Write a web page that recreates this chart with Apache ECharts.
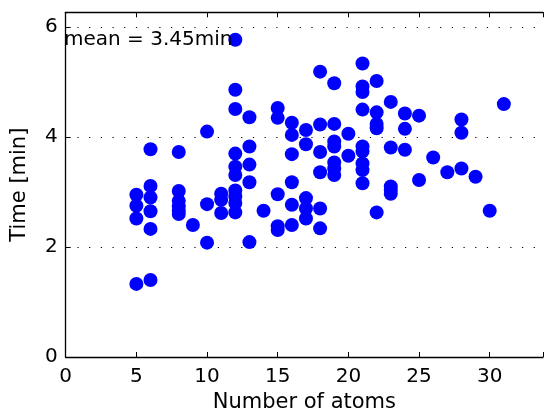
<!DOCTYPE html>
<html><head><meta charset="utf-8">
<script src="https://cdn.jsdelivr.net/npm/echarts@6/dist/echarts.min.js"></script>
<style>html,body{margin:0;padding:0;background:#fff}#c{width:546px;height:418px}</style>
</head><body><div id="c"></div>
<script>
// Number of atoms for each column of points
const atomColumns = [5, 6, 8, 9, 10, 11, 12, 13, 14, 15, 16, 17, 18, 19, 20, 21, 22, 23, 24, 25, 26, 27, 28, 29, 30, 31];
// Times [min] for each column (same order as atomColumns)
const timeColumns = [
  [2.95, 2.75, 2.52, 1.33],
  [3.78, 3.11, 2.90, 2.65, 2.33, 1.40],
  [3.73, 3.02, 2.84, 2.74, 2.66, 2.60],
  [2.40],
  [4.10, 2.78, 2.08],
  [2.97, 2.86, 2.62],
  [5.77, 4.86, 4.51, 3.70, 3.46, 3.31, 3.03, 2.92, 2.80, 2.63],
  [4.36, 3.83, 3.50, 3.18, 2.09],
  [2.66],
  [4.53, 4.35, 2.96, 2.38, 2.31],
  [4.26, 4.04, 3.69, 3.18, 2.77, 2.40],
  [4.13, 3.87, 2.89, 2.70, 2.52],
  [5.19, 4.23, 3.73, 3.36, 2.70, 2.34],
  [4.98, 4.24, 3.92, 3.83, 3.54, 3.43, 3.31],
  [4.06, 3.66],
  [5.34, 4.92, 4.82, 4.50, 3.83, 3.74, 3.52, 3.40, 3.16],
  [5.02, 4.45, 4.24, 4.16, 2.63],
  [4.64, 3.81, 3.10, 3.04, 2.97],
  [4.43, 4.15, 3.77],
  [4.39, 3.22],
  [3.63],
  [3.36],
  [4.32, 4.08, 3.43],
  [3.28],
  [2.66],
  [4.60]
];
const xTickValues = [0, 5, 10, 15, 20, 25, 30];
const yTickValues = [0, 2, 4, 6];
const meanText = 'mean = 3.45min';
const xName = 'Number of atoms';
const yName = 'Time [min]';

const points = [];
atomColumns.forEach((a, i) => timeColumns[i].forEach(t => points.push([a, t])));

const FONT = 'DejaVu Sans';
const chart = echarts.init(document.getElementById('c'), null, {renderer: 'canvas'});
chart.setOption({
  animation: false,
  backgroundColor: '#fff',
  title: {
    text: meanText, left: 64, top: 30, padding: 0,
    textStyle: {fontFamily: FONT, fontSize: 20, fontWeight: 'normal', color: '#000', lineHeight: 20}
  },
  grid: {left: 65.7, top: 12.3, right: -1, bottom: 60.3, containLabel: false},
  xAxis: [{
    type: 'value', min: 0, max: 33.77, interval: 5, position: 'bottom',
    name: xName, nameLocation: 'middle', nameGap: 35,
    nameTextStyle: {fontFamily: FONT, fontSize: 21, color: '#000'},
    axisLine: {show: true, onZero: false, lineStyle: {color: '#000', width: 1.3}},
    axisTick: {show: true, inside: true, length: 5, lineStyle: {color: '#000', width: 1}},
    axisLabel: {fontFamily: FONT, fontSize: 20, color: '#000', margin: 10,
      formatter: v => xTickValues.includes(v) ? String(v) : ''},
    splitLine: {show: false}
  }, {
    type: 'value', min: 0, max: 33.77, interval: 5, position: 'top',
    axisLine: {show: true, onZero: false, lineStyle: {color: '#000', width: 1.3}},
    axisTick: {show: true, inside: true, length: 5, lineStyle: {color: '#000', width: 1}},
    axisLabel: {show: false},
    splitLine: {show: false}
  }],
  yAxis: [{
    type: 'value', min: 0, max: 6.27, interval: 2,
    name: yName, nameLocation: 'middle', nameGap: 36, nameRotate: 90,
    nameTextStyle: {fontFamily: FONT, fontSize: 21, color: '#000'},
    axisLine: {show: true, onZero: false, lineStyle: {color: '#000', width: 1.3}},
    axisTick: {show: true, inside: true, length: 5, lineStyle: {color: '#000', width: 1}},
    axisLabel: {fontFamily: FONT, fontSize: 20, color: '#000', margin: 8,
      formatter: v => yTickValues.includes(v) ? String(v) : ''},
    splitLine: {show: true, lineStyle: {color: '#000', width: 1, type: [1.2, 10.5]}}
  }],
  series: [{
    type: 'scatter', xAxisIndex: 0, yAxisIndex: 0,
    data: points, symbol: 'circle', symbolSize: 14,
    itemStyle: {color: '#0000ff', opacity: 1},
    emphasis: {disabled: true}
  }]
});
</script></body></html>
